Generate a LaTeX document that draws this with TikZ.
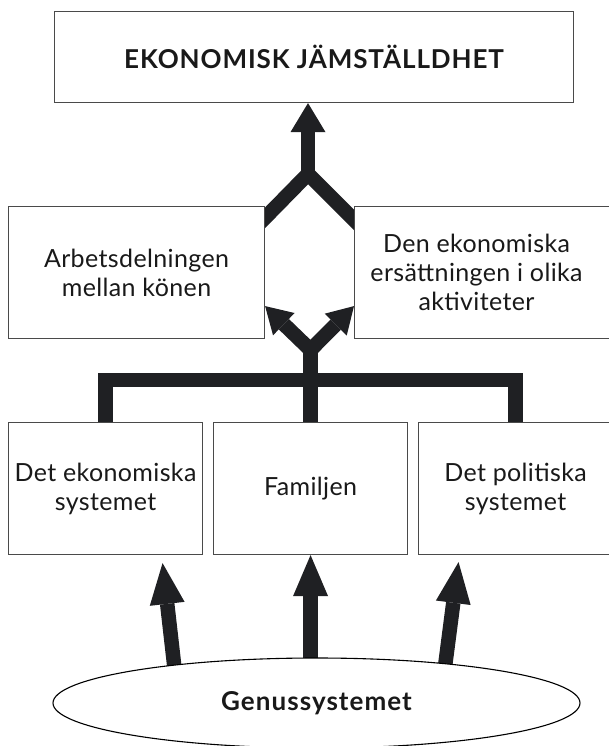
\documentclass[tikz,border=0pt]{standalone}
\usepackage{fontspec}
\setmainfont{Lato}
\usetikzlibrary{arrows.meta,calc,shapes.geometric}
\pgfdeclarelayer{bg}
\pgfsetlayers{bg,main}
\definecolor{boxgray}{HTML}{4A4A4A}
\definecolor{arrowblack}{HTML}{1F2023}
\newcommand{\regfont}{\addfontfeatures{LetterSpace=1.5}\fontsize{25}{29}\selectfont}
\begin{document}
\begin{tikzpicture}[x=1pt,y=-1pt,
  box/.style={draw=boxgray, line width=1.1pt, fill=white, inner sep=0pt, anchor=north west,
    font=\regfont, align=center, text=black!90},
  txt/.style={font=\regfont, align=center, text=black!90, inner sep=0pt},
  link/.style={draw=arrowblack, line width=14.5pt, line join=miter},
  toparrow/.style={link, -{Triangle[width=35pt,length=29pt,line width=0pt]}},
  midarrow/.style={link, {Triangle[width=31pt,length=26pt,line width=0pt]}-{Triangle[width=31pt,length=26pt,line width=0pt]}},
  botarrow/.style={link, -{Triangle[width=35pt,length=41pt,line width=0pt]}}
]
\useasboundingbox (0,0) rectangle (608,746);
\begin{pgfonlayer}{bg}
\fill[white] (0,0) rectangle (608,746);
\end{pgfonlayer}

% boxes
\node[box, minimum width=519pt, minimum height=91pt,
  font=\bfseries\addfontfeatures{LetterSpace=3.5}\fontsize{26}{30}\selectfont] (ek) at (54,11) {EKONOMISK JÄMSTÄLLDHET};
\node[box, minimum width=256pt, minimum height=132pt] (arb) at (8,206) {Arbetsdelningen\\mellan könen};
\node[box, minimum width=266pt, minimum height=132pt,
  label={[txt, xshift=-11pt]center:{Den ekonomiska\\ersättningen i olika\\aktiviteter}}] (ers) at (354,206) {};
\node[box, minimum width=194pt, minimum height=132pt] (eco) at (8,422) {Det ekonomiska\\systemet};
\node[box, minimum width=194pt, minimum height=132pt] (fam) at (213,422) {Familjen};
\node[box, minimum width=194pt, minimum height=132pt] (pol) at (418,422) {Det politiska\\systemet};
\node[draw=black, line width=1.1pt, fill=white, ellipse, minimum width=527pt, minimum height=90pt,
  inner sep=0pt, font=\bfseries\addfontfeatures{LetterSpace=4}\fontsize{26}{30}\selectfont, text=black!90] (gen) at (316.5,703) {Genussystemet};

% connectors
\coordinate (f1) at (308,174);
\coordinate (f2) at ($(fam.north)+(0,-72)$);
\coordinate (bar) at (310,380);
\begin{pgfonlayer}{bg}
\draw[link] ($(arb.north east)+(-12,24)$) -- (f1) -- ($(ers.north west)+(12,26)$);
\draw[toparrow] (f1) -- (f1 |- ek.south);
\draw[midarrow] ([yshift=33pt]arb.south east) -- (f2) -- ([yshift=33pt]ers.south west);
\draw[link] ([yshift=-4pt]fam.north) -- (f2);
\draw[link] ([yshift=-4pt]eco.north) |- (bar) -| ([yshift=-4pt]pol.north);
\draw[botarrow] ($(gen.north -| fam.south)+(0,6)$) -- (fam.south);
\draw[botarrow] ($(gen.north)+(-141.5,15)$) -- ($(eco.south)+(57,8)$);
\draw[botarrow] ($(gen.north)+(128,13)$) -- ($(pol.south)+(-57,7)$);
\end{pgfonlayer}
\end{tikzpicture}
\end{document}
